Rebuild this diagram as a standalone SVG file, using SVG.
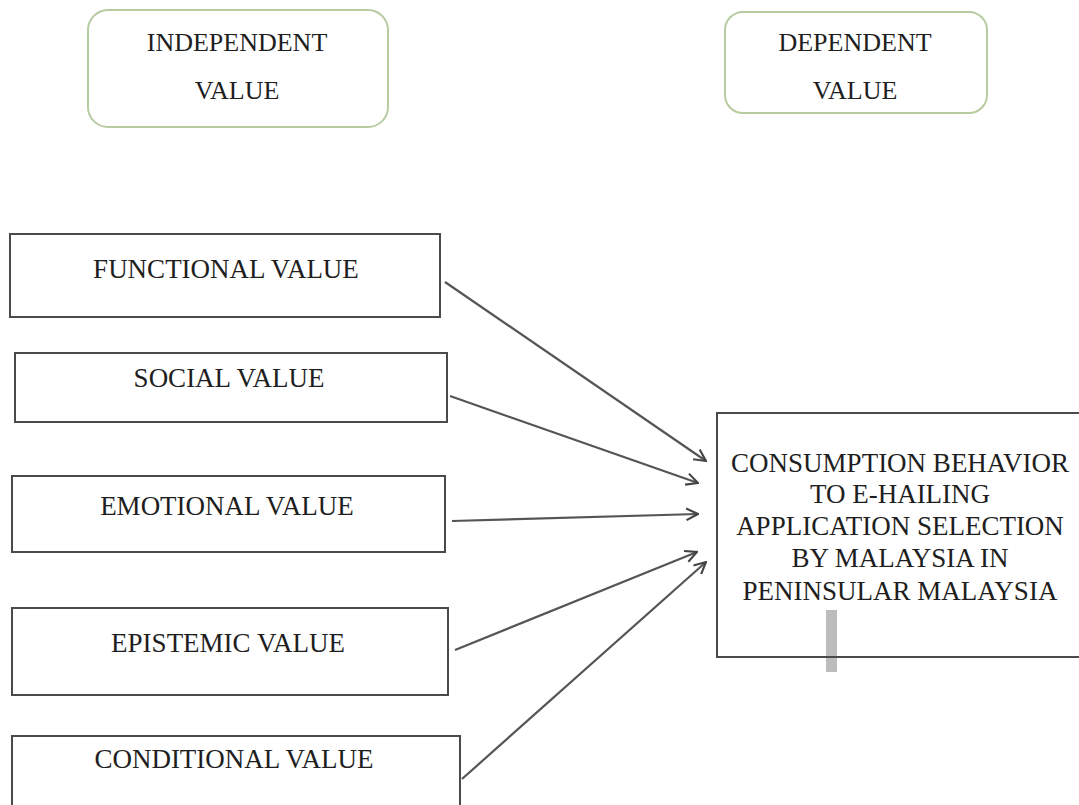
<svg xmlns="http://www.w3.org/2000/svg" width="1079" height="805" viewBox="0 0 1079 805">
  <style>
    .lbl { font-family: "Liberation Serif", "Times New Roman", serif; font-size: 27px; fill: #1e1e1e; text-anchor: middle; }
    .hdr { font-size: 26px; }
    .head { fill: #fff; stroke: #b7cba0; stroke-width: 2; }
    .box { fill: #fff; stroke: #4a4a4a; stroke-width: 2; }
    .conn { stroke: #555; stroke-width: 2.2; fill: none; marker-end: url(#chev); }
  </style>
  <defs>
    <marker id="chev" viewBox="0 0 12 12" refX="11" refY="6" markerWidth="14" markerHeight="14" markerUnits="userSpaceOnUse" orient="auto">
      <path d="M1,1 L11,6 L1,11" fill="none" stroke="#444" stroke-width="1.8"/>
    </marker>
  </defs>
  <rect width="1079" height="805" fill="#fff"/>

  <!-- column headers -->
  <g id="independent-header">
    <rect class="head" x="88" y="10" width="300" height="117" rx="20"/>
    <text class="lbl hdr" x="237" y="51">INDEPENDENT</text>
    <text class="lbl hdr" x="237" y="99">VALUE</text>
  </g>
  <g id="dependent-header">
    <rect class="head" x="725" y="12" width="262" height="101" rx="18"/>
    <text class="lbl hdr" x="855" y="51">DEPENDENT</text>
    <text class="lbl hdr" x="855" y="99">VALUE</text>
  </g>

  <!-- independent variables -->
  <g id="functional">
    <rect class="box" x="10" y="234" width="430" height="83"/>
    <text class="lbl" x="226" y="278">FUNCTIONAL VALUE</text>
  </g>
  <g id="social">
    <rect class="box" x="15" y="353" width="432" height="69"/>
    <text class="lbl" x="229" y="387">SOCIAL VALUE</text>
  </g>
  <g id="emotional">
    <rect class="box" x="12" y="476" width="433" height="76"/>
    <text class="lbl" x="227" y="515">EMOTIONAL VALUE</text>
  </g>
  <g id="epistemic">
    <rect class="box" x="12" y="608" width="436" height="87"/>
    <text class="lbl" x="228" y="652">EPISTEMIC VALUE</text>
  </g>
  <g id="conditional">
    <rect class="box" x="12" y="736" width="448" height="80"/>
    <text class="lbl" x="234" y="768">CONDITIONAL VALUE</text>
  </g>

  <!-- dependent variable -->
  <g id="consumption-behavior">
    <rect class="box" x="717" y="413" width="370" height="244"/>
    <rect x="826" y="610" width="11" height="62" fill="#bcbcbc"/>
    <line x1="826" y1="657" x2="837" y2="657" stroke="#4a4a4a" stroke-width="2"/>
    <text class="lbl" x="900" y="472">CONSUMPTION BEHAVIOR</text>
    <text class="lbl" x="900" y="503">TO E-HAILING</text>
    <text class="lbl" x="900" y="535">APPLICATION SELECTION</text>
    <text class="lbl" x="900" y="567">BY MALAYSIA IN</text>
    <text class="lbl" x="900" y="600">PENINSULAR MALAYSIA</text>
  </g>

  <!-- connectors -->
  <g id="connectors">
    <line class="conn" x1="445" y1="282" x2="706" y2="461"/>
    <line class="conn" x1="450" y1="396" x2="698" y2="483"/>
    <line class="conn" x1="452" y1="521" x2="698" y2="514"/>
    <line class="conn" x1="455" y1="650" x2="697" y2="552"/>
    <line class="conn" x1="462" y1="779" x2="706" y2="562"/>
  </g>
</svg>
